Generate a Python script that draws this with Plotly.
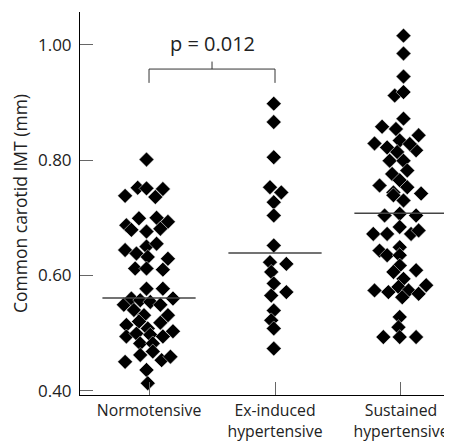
import plotly.graph_objects as go

groups = ["Normotensive", "Ex-induced<br>hypertensive", "Sustained<br>hypertensive"]

norm_imt = [0.801, 0.738, 0.752, 0.751, 0.736, 0.750, 0.687, 0.699, 0.700, 0.693,
            0.679, 0.676, 0.681, 0.644, 0.638, 0.650, 0.655, 0.632, 0.629, 0.612,
            0.612, 0.610, 0.577, 0.577, 0.549, 0.560, 0.557, 0.554, 0.549, 0.560,
            0.540, 0.531, 0.531, 0.514, 0.520, 0.508, 0.518, 0.494, 0.499, 0.497,
            0.494, 0.503, 0.482, 0.482, 0.450, 0.462, 0.468, 0.453, 0.459, 0.436, 0.413]
norm_jit = [-0.02, -0.19, -0.09, -0.02, 0.05, 0.11, -0.18, -0.08, 0.06, 0.15,
            -0.14, -0.02, 0.09, -0.19, -0.10, -0.02, 0.06, -0.01, 0.15, -0.11,
            -0.02, 0.11, -0.02, 0.11, -0.20, -0.14, -0.07, 0.01, 0.09, 0.19,
            -0.12, -0.04, 0.15, -0.18, -0.08, -0.01, 0.09, -0.18, -0.10, 0.01,
            0.11, 0.19, -0.07, 0.03, -0.19, -0.07, 0.03, 0.10, 0.17, -0.02, -0.01]

ex_imt = [0.898, 0.866, 0.805, 0.753, 0.744, 0.727, 0.704, 0.652, 0.623, 0.620,
          0.606, 0.586, 0.571, 0.565, 0.539, 0.522, 0.508, 0.473]
ex_jit = [-0.01, -0.01, -0.01, -0.04, 0.05, -0.01, -0.01, -0.01, -0.04, 0.09,
          -0.03, -0.01, 0.09, -0.03, -0.01, -0.03, -0.01, -0.01]

sus_imt = [1.016, 0.985, 0.945, 0.912, 0.918, 0.858, 0.872, 0.854, 0.843, 0.829,
           0.822, 0.834, 0.814, 0.817, 0.828, 0.799, 0.799, 0.776, 0.782, 0.765,
           0.756, 0.742, 0.744, 0.753, 0.739, 0.730, 0.704, 0.707, 0.704, 0.672,
           0.672, 0.684, 0.672, 0.678, 0.643, 0.649, 0.635, 0.635, 0.617, 0.606,
           0.609, 0.594, 0.574, 0.571, 0.580, 0.574, 0.568, 0.583, 0.562, 0.528,
           0.510, 0.493, 0.493, 0.493]
sus_jit = [0.02, 0.02, 0.02, -0.05, 0.02, -0.15, 0.02, -0.04, 0.14, -0.21,
           -0.11, -0.01, -0.03, 0.12, 0.07, -0.09, 0.02, -0.07, 0.05, -0.01,
           -0.17, 0.16, -0.06, 0.05, -0.06, 0.02, -0.13, -0.01, 0.12, -0.22,
           -0.11, -0.01, 0.08, 0.14, -0.17, -0.01, -0.11, -0.01, -0.01, -0.06,
           0.12, 0.02, -0.21, -0.10, -0.02, 0.06, 0.14, 0.20, 0.01, -0.01,
           -0.02, -0.14, -0.01, 0.12]

group_means = [0.561, 0.639, 0.708]
p_text = "p = 0.012"

y_ticks = [0.40, 0.60, 0.80, 1.00]
y_ticktext = ["0.40", "0.60", "0.80", "1.00"]

FONT = "Open Sans"
fig = go.Figure()

all_vals = [norm_imt, ex_imt, sus_imt]
all_jit = [norm_jit, ex_jit, sus_jit]
for gi, (vals, jit) in enumerate(zip(all_vals, all_jit)):
    fig.add_trace(go.Scatter(
        x=[gi + j for j in jit], y=vals, mode="markers",
        marker=dict(symbol="diamond", size=11.5, color="black",
                    line=dict(color="white", width=0.5)),
        showlegend=False, hoverinfo="skip"))

# mean lines
for gi, m in enumerate(group_means):
    fig.add_shape(type="line", x0=gi - 0.37, x1=gi + 0.37, y0=m, y1=m,
                  xref="x", yref="y", line=dict(color="#444444", width=1.5))

# significance bracket between groups 0 and 1
br_y, br_drop, br_rise = 0.958, 0.934, 0.971
fig.add_shape(type="path",
              path=f"M 0 {br_drop} L 0 {br_y} L 1 {br_y} L 1 {br_drop}",
              xref="x", yref="y", line=dict(color="#333333", width=1))
fig.add_shape(type="line", x0=0.5, x1=0.5, y0=br_y, y1=br_rise,
              xref="x", yref="y", line=dict(color="#333333", width=1))
fig.add_annotation(x=0.5, y=1.003, text=p_text, showarrow=False,
                   xref="x", yref="y", font=dict(family=FONT, size=20, color="#222"))

fig.update_layout(
    width=444, height=435,
    margin=dict(l=72, r=0, t=4, b=48),
    plot_bgcolor="white", paper_bgcolor="white",
    font=dict(family=FONT, size=16, color="#222"),
    xaxis=dict(range=[-0.548, 2.405], tickmode="array", tickvals=[0, 1, 2],
               ticktext=groups, ticks="inside", ticklen=13, tickcolor="#666",
               tickwidth=1, showline=True, linecolor="black", linewidth=1,
               showgrid=False, zeroline=False, tickfont=dict(size=15.8),
               ticklabelstandoff=1, automargin=False),
    yaxis=dict(range=[0.3925, 1.057], tickmode="array", tickvals=y_ticks,
               ticktext=y_ticktext, ticks="inside", ticklen=13, tickcolor="#666",
               tickwidth=1, showline=True, linecolor="black", linewidth=1,
               showgrid=False, zeroline=False, tickfont=dict(size=17),
               ticklabelstandoff=4, automargin=False,
               title=dict(text="Common carotid IMT (mm)", font=dict(size=17.5),
                          standoff=11)),
)

fig.write_html("out.html")
